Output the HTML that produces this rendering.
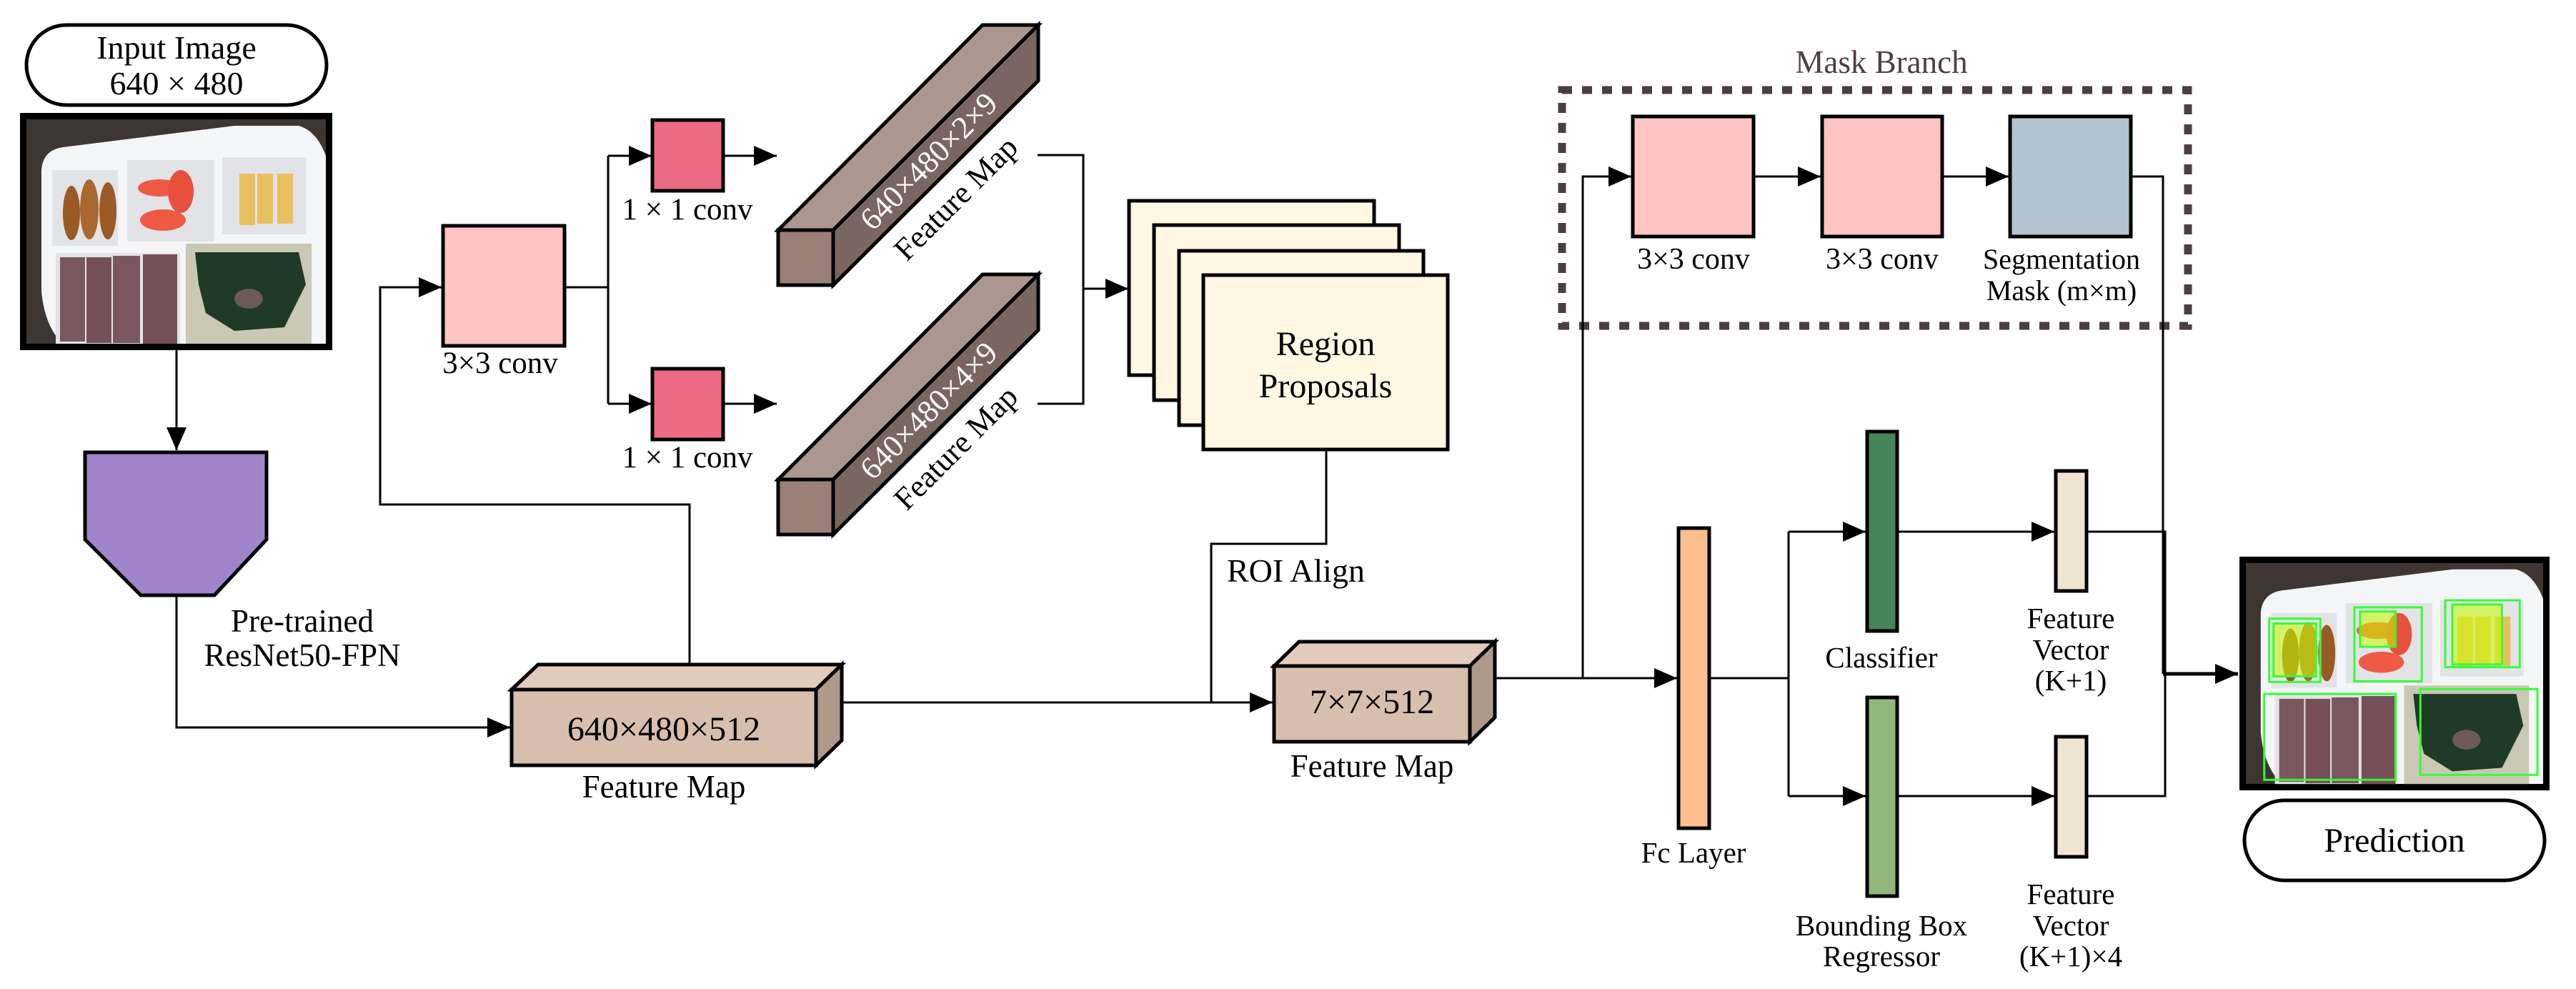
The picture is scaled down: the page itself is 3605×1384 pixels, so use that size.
<!DOCTYPE html>
<html><head><meta charset="utf-8"><style>
html,body{margin:0;padding:0;background:#fff;}
svg{display:block;}
text{font-family:"Liberation Serif",serif;fill:#000;}
</style></head><body>
<svg width="3605" height="1384" viewBox="0 0 3605 1384" xmlns="http://www.w3.org/2000/svg">
<defs>
<marker id="a" viewBox="0 0 10 10" refX="10" refY="5" markerWidth="32" markerHeight="28" markerUnits="userSpaceOnUse" orient="auto" preserveAspectRatio="none"><path d="M0,0 L10,5 L0,10 z" fill="#000"/></marker>
<clipPath id="tc"><rect x="9" y="9" width="419" height="314"/></clipPath>
<g id="tray">
<rect x="0" y="0" width="437" height="332" fill="#000"/>
<g clip-path="url(#tc)">
<rect x="9" y="9" width="419" height="314" fill="#3d3632"/>
<path d="M30,80 Q32,52 60,48 L300,18 L390,18 Q415,25 428,60 L428,323 L60,323 Q35,300 30,250 Z" fill="#f4f5f7"/>
<rect x="45" y="80" width="92" height="106" fill="#e2e3e6"/>
<ellipse cx="72" cy="140" rx="12" ry="38" fill="#9a5a25"/><ellipse cx="97" cy="135" rx="13" ry="42" fill="#a8682e"/><ellipse cx="123" cy="137" rx="12" ry="40" fill="#9a5a25"/>
<rect x="150" y="66" width="122" height="114" fill="#e2e3e6"/>
<ellipse cx="195" cy="105" rx="30" ry="12" fill="#ef5a45"/><ellipse cx="225" cy="110" rx="18" ry="30" fill="#e8503e"/><ellipse cx="200" cy="150" rx="32" ry="15" fill="#ef5a45"/>
<rect x="283" y="62" width="117" height="108" fill="#e2e3e6"/>
<rect x="307" y="85" width="22" height="72" fill="#e8c060"/><rect x="332" y="85" width="22" height="70" fill="#e8c060"/><rect x="360" y="85" width="22" height="70" fill="#e8c060"/>
<rect x="50" y="196" width="174" height="132" fill="#e2e3e6"/>
<rect x="56" y="202" width="35" height="118" fill="#7a5760"/><rect x="93" y="202" width="35" height="120" fill="#765058"/><rect x="130" y="200" width="38" height="122" fill="#7a5760"/><rect x="172" y="198" width="48" height="126" fill="#765058"/>
<rect x="232" y="183" width="176" height="146" fill="#c9c8b4"/>
<path d="M245,195 L390,195 L400,240 L370,300 L300,305 L260,280 L250,240 Z" fill="#1f3a26"/>
<ellipse cx="320" cy="260" rx="20" ry="14" fill="#6b5a55"/>
</g>
</g>
</defs>

<rect x="37" y="35" width="420" height="112" rx="56" fill="#fff" stroke="#000" stroke-width="5"/>
<text x="247" y="82" font-size="46" text-anchor="middle">Input Image</text>
<text x="247" y="132" font-size="46" text-anchor="middle">640 × 480</text>
<use href="#tray" x="28" y="158"/>
<line x1="247" y1="490" x2="247" y2="630" stroke="#000" stroke-width="3" marker-end="url(#a)"/>

<path d="M119,633 L373,633 L373,755 L300,833 L197,833 L119,755 Z" fill="#a084c9" stroke="#000" stroke-width="5"/>
<text x="423" y="884" font-size="45" text-anchor="middle">Pre-trained</text>
<text x="423" y="932" font-size="45" text-anchor="middle">ResNet50-FPN</text>
<polyline points="247,833 247,1018 714,1018" fill="none" stroke="#000" stroke-width="3" marker-end="url(#a)"/>

<polygon points="716,965 753,930 1178,930 1142,965" fill="#e2cbbc" stroke="#000" stroke-width="5"/>
<polygon points="1142,965 1178,930 1178,1036 1142,1071" fill="#af998b" stroke="#000" stroke-width="5"/>
<rect x="716" y="965" width="426" height="106" fill="#d7bead" stroke="#000" stroke-width="5"/>
<text x="929" y="1036" font-size="48" text-anchor="middle">640×480×512</text>
<text x="929" y="1116" font-size="45" text-anchor="middle">Feature Map</text>

<polyline points="965,930 965,706 532,706 532,402 618,402" fill="none" stroke="#000" stroke-width="3" marker-end="url(#a)"/>
<rect x="620" y="316" width="170" height="168" fill="#fec3c3" stroke="#000" stroke-width="5"/>
<text x="700" y="522" font-size="43" text-anchor="middle">3×3 conv</text>
<polyline points="790,402 851,402" fill="none" stroke="#000" stroke-width="3"/>
<polyline points="851,218 851,565" fill="none" stroke="#000" stroke-width="3"/>
<line x1="851" y1="218" x2="912" y2="218" stroke="#000" stroke-width="3" marker-end="url(#a)"/>
<line x1="851" y1="565" x2="912" y2="565" stroke="#000" stroke-width="3" marker-end="url(#a)"/>
<rect x="913" y="168" width="99" height="99" fill="#ec6a83" stroke="#000" stroke-width="5"/>
<rect x="913" y="516" width="99" height="99" fill="#ec6a83" stroke="#000" stroke-width="5"/>
<text x="962" y="307" font-size="43" text-anchor="middle">1 × 1 conv</text>
<text x="962" y="654" font-size="43" text-anchor="middle">1 × 1 conv</text>
<line x1="1012" y1="218" x2="1087" y2="218" stroke="#000" stroke-width="3" marker-end="url(#a)"/>
<line x1="1012" y1="565" x2="1087" y2="565" stroke="#000" stroke-width="3" marker-end="url(#a)"/>

<g>
<polygon points="1089,322 1375,35 1453,35 1166,322" fill="#ab978f" stroke="#000" stroke-width="5"/>
<polygon points="1166,322 1453,35 1453,113 1166,399" fill="#7a6660" stroke="#000" stroke-width="5"/>
<rect x="1089" y="322" width="77" height="77" fill="#9a8078" stroke="#000" stroke-width="5"/>
<text x="1300" y="240" font-size="44" text-anchor="middle" style="fill:#fff" transform="rotate(-45 1300 226)">640×480×2×9</text>
<text x="1338" y="292" font-size="44" text-anchor="middle" transform="rotate(-45 1338 278)">Feature Map</text>
</g>
<g transform="translate(0,349)">
<polygon points="1089,322 1375,35 1453,35 1166,322" fill="#ab978f" stroke="#000" stroke-width="5"/>
<polygon points="1166,322 1453,35 1453,113 1166,399" fill="#7a6660" stroke="#000" stroke-width="5"/>
<rect x="1089" y="322" width="77" height="77" fill="#9a8078" stroke="#000" stroke-width="5"/>
<text x="1300" y="240" font-size="44" text-anchor="middle" style="fill:#fff" transform="rotate(-45 1300 226)">640×480×4×9</text>
<text x="1338" y="292" font-size="44" text-anchor="middle" transform="rotate(-45 1338 278)">Feature Map</text>
</g>
<polyline points="1452,217 1516,217 1516,565 1452,565" fill="none" stroke="#000" stroke-width="3"/>
<line x1="1516" y1="404" x2="1579" y2="404" stroke="#000" stroke-width="3" marker-end="url(#a)"/>

<rect x="1580" y="281" width="343" height="244" fill="#fff6e3" stroke="#000" stroke-width="5"/>
<rect x="1615" y="315" width="343" height="245" fill="#fff6e3" stroke="#000" stroke-width="5"/>
<rect x="1650" y="351" width="342" height="244" fill="#fff6e3" stroke="#000" stroke-width="5"/>
<rect x="1684" y="385" width="342" height="244" fill="#fff6e3" stroke="#000" stroke-width="5"/>
<text x="1855" y="497" font-size="48" text-anchor="middle">Region</text>
<text x="1855" y="556" font-size="48" text-anchor="middle">Proposals</text>
<polyline points="1856,629 1856,761 1695,761 1695,983" fill="none" stroke="#000" stroke-width="3"/>
<text x="1717" y="814" font-size="46">ROI Align</text>
<line x1="1178" y1="983" x2="1781" y2="983" stroke="#000" stroke-width="3" marker-end="url(#a)"/>

<polygon points="1783,932 1818,898 2092,898 2057,932" fill="#e2cbbc" stroke="#000" stroke-width="5"/>
<polygon points="2057,932 2092,898 2092,1004 2057,1038" fill="#af998b" stroke="#000" stroke-width="5"/>
<rect x="1783" y="932" width="274" height="106" fill="#d7bead" stroke="#000" stroke-width="5"/>
<text x="1920" y="998" font-size="48" text-anchor="middle">7×7×512</text>
<text x="1920" y="1087" font-size="45" text-anchor="middle">Feature Map</text>
<line x1="2092" y1="949" x2="2347" y2="949" stroke="#000" stroke-width="3" marker-end="url(#a)"/>

<text x="2633" y="102" font-size="45" text-anchor="middle" style="fill:#4d3f3f">Mask Branch</text>
<rect x="2186" y="126" width="876" height="330" fill="none" stroke="#4a3f3f" stroke-width="11" stroke-dasharray="14,14"/>
<polyline points="2215,949 2215,247 2283,247" fill="none" stroke="#000" stroke-width="3" marker-end="url(#a)"/>
<rect x="2285" y="163" width="169" height="168" fill="#fec3c3" stroke="#000" stroke-width="5"/>
<rect x="2550" y="163" width="168" height="168" fill="#fec3c3" stroke="#000" stroke-width="5"/>
<rect x="2813" y="163" width="169" height="168" fill="#b5c3cf" stroke="#000" stroke-width="5"/>
<line x1="2454" y1="247" x2="2548" y2="247" stroke="#000" stroke-width="3" marker-end="url(#a)"/>
<line x1="2718" y1="247" x2="2811" y2="247" stroke="#000" stroke-width="3" marker-end="url(#a)"/>
<text x="2370" y="376" font-size="42" text-anchor="middle">3×3 conv</text>
<text x="2634" y="376" font-size="42" text-anchor="middle">3×3 conv</text>
<text x="2885" y="376" font-size="40" text-anchor="middle">Segmentation</text>
<text x="2885" y="420" font-size="40" text-anchor="middle">Mask (m×m)</text>
<polyline points="2982,247 3027,247 3027,943" fill="none" stroke="#000" stroke-width="3"/>

<rect x="2349" y="739" width="43" height="420" fill="#ffc08f" stroke="#000" stroke-width="5"/>
<text x="2370" y="1207" font-size="41" text-anchor="middle">Fc Layer</text>
<polyline points="2392,949 2503,949" fill="none" stroke="#000" stroke-width="3"/>
<polyline points="2503,744 2503,1114" fill="none" stroke="#000" stroke-width="3"/>
<line x1="2503" y1="744" x2="2611" y2="744" stroke="#000" stroke-width="3" marker-end="url(#a)"/>
<line x1="2503" y1="1114" x2="2611" y2="1114" stroke="#000" stroke-width="3" marker-end="url(#a)"/>
<rect x="2613" y="604" width="42" height="279" fill="#458559" stroke="#000" stroke-width="5"/>
<rect x="2613" y="976" width="42" height="278" fill="#92b77c" stroke="#000" stroke-width="5"/>
<text x="2633" y="934" font-size="41" text-anchor="middle">Classifier</text>
<text x="2633" y="1309" font-size="41" text-anchor="middle">Bounding Box</text>
<text x="2633" y="1352" font-size="41" text-anchor="middle">Regressor</text>
<line x1="2655" y1="744" x2="2875" y2="744" stroke="#000" stroke-width="3" marker-end="url(#a)"/>
<line x1="2655" y1="1114" x2="2875" y2="1114" stroke="#000" stroke-width="3" marker-end="url(#a)"/>
<rect x="2877" y="659" width="43" height="168" fill="#efe5d0" stroke="#000" stroke-width="5"/>
<rect x="2877" y="1031" width="43" height="168" fill="#efe5d0" stroke="#000" stroke-width="5"/>
<text x="2898" y="879" font-size="41" text-anchor="middle">Feature</text>
<text x="2898" y="923" font-size="41" text-anchor="middle">Vector</text>
<text x="2898" y="966" font-size="41" text-anchor="middle">(K+1)</text>
<text x="2898" y="1265" font-size="41" text-anchor="middle">Feature</text>
<text x="2898" y="1309" font-size="41" text-anchor="middle">Vector</text>
<text x="2898" y="1352" font-size="41" text-anchor="middle">(K+1)×4</text>
<polyline points="2920,744 3030,744 3030,1114 2920,1114" fill="none" stroke="#000" stroke-width="3"/>
<line x1="3027" y1="943" x2="3132" y2="943" stroke="#000" stroke-width="5" marker-end="url(#a)"/>

<g transform="translate(3134,779) scale(0.993,0.985)">
<use href="#tray"/>
<g fill="rgba(200,255,0,0.55)" stroke="#3f3" stroke-width="3">
<rect x="48" y="95" width="60" height="75"/><rect x="170" y="78" width="50" height="50"/><rect x="300" y="68" width="70" height="85"/>
</g>
<g fill="none" stroke="#3f3" stroke-width="3">
<rect x="42" y="88" width="72" height="90"/><rect x="162" y="72" width="95" height="105"/><rect x="290" y="62" width="105" height="95"/>
<rect x="35" y="195" width="185" height="122"/><rect x="255" y="188" width="165" height="122"/>
</g>
</g>
<rect x="3141" y="1120" width="420" height="112" rx="56" fill="#fff" stroke="#000" stroke-width="5"/>
<text x="3351" y="1192" font-size="48" text-anchor="middle">Prediction</text>
</svg>
</body></html>
